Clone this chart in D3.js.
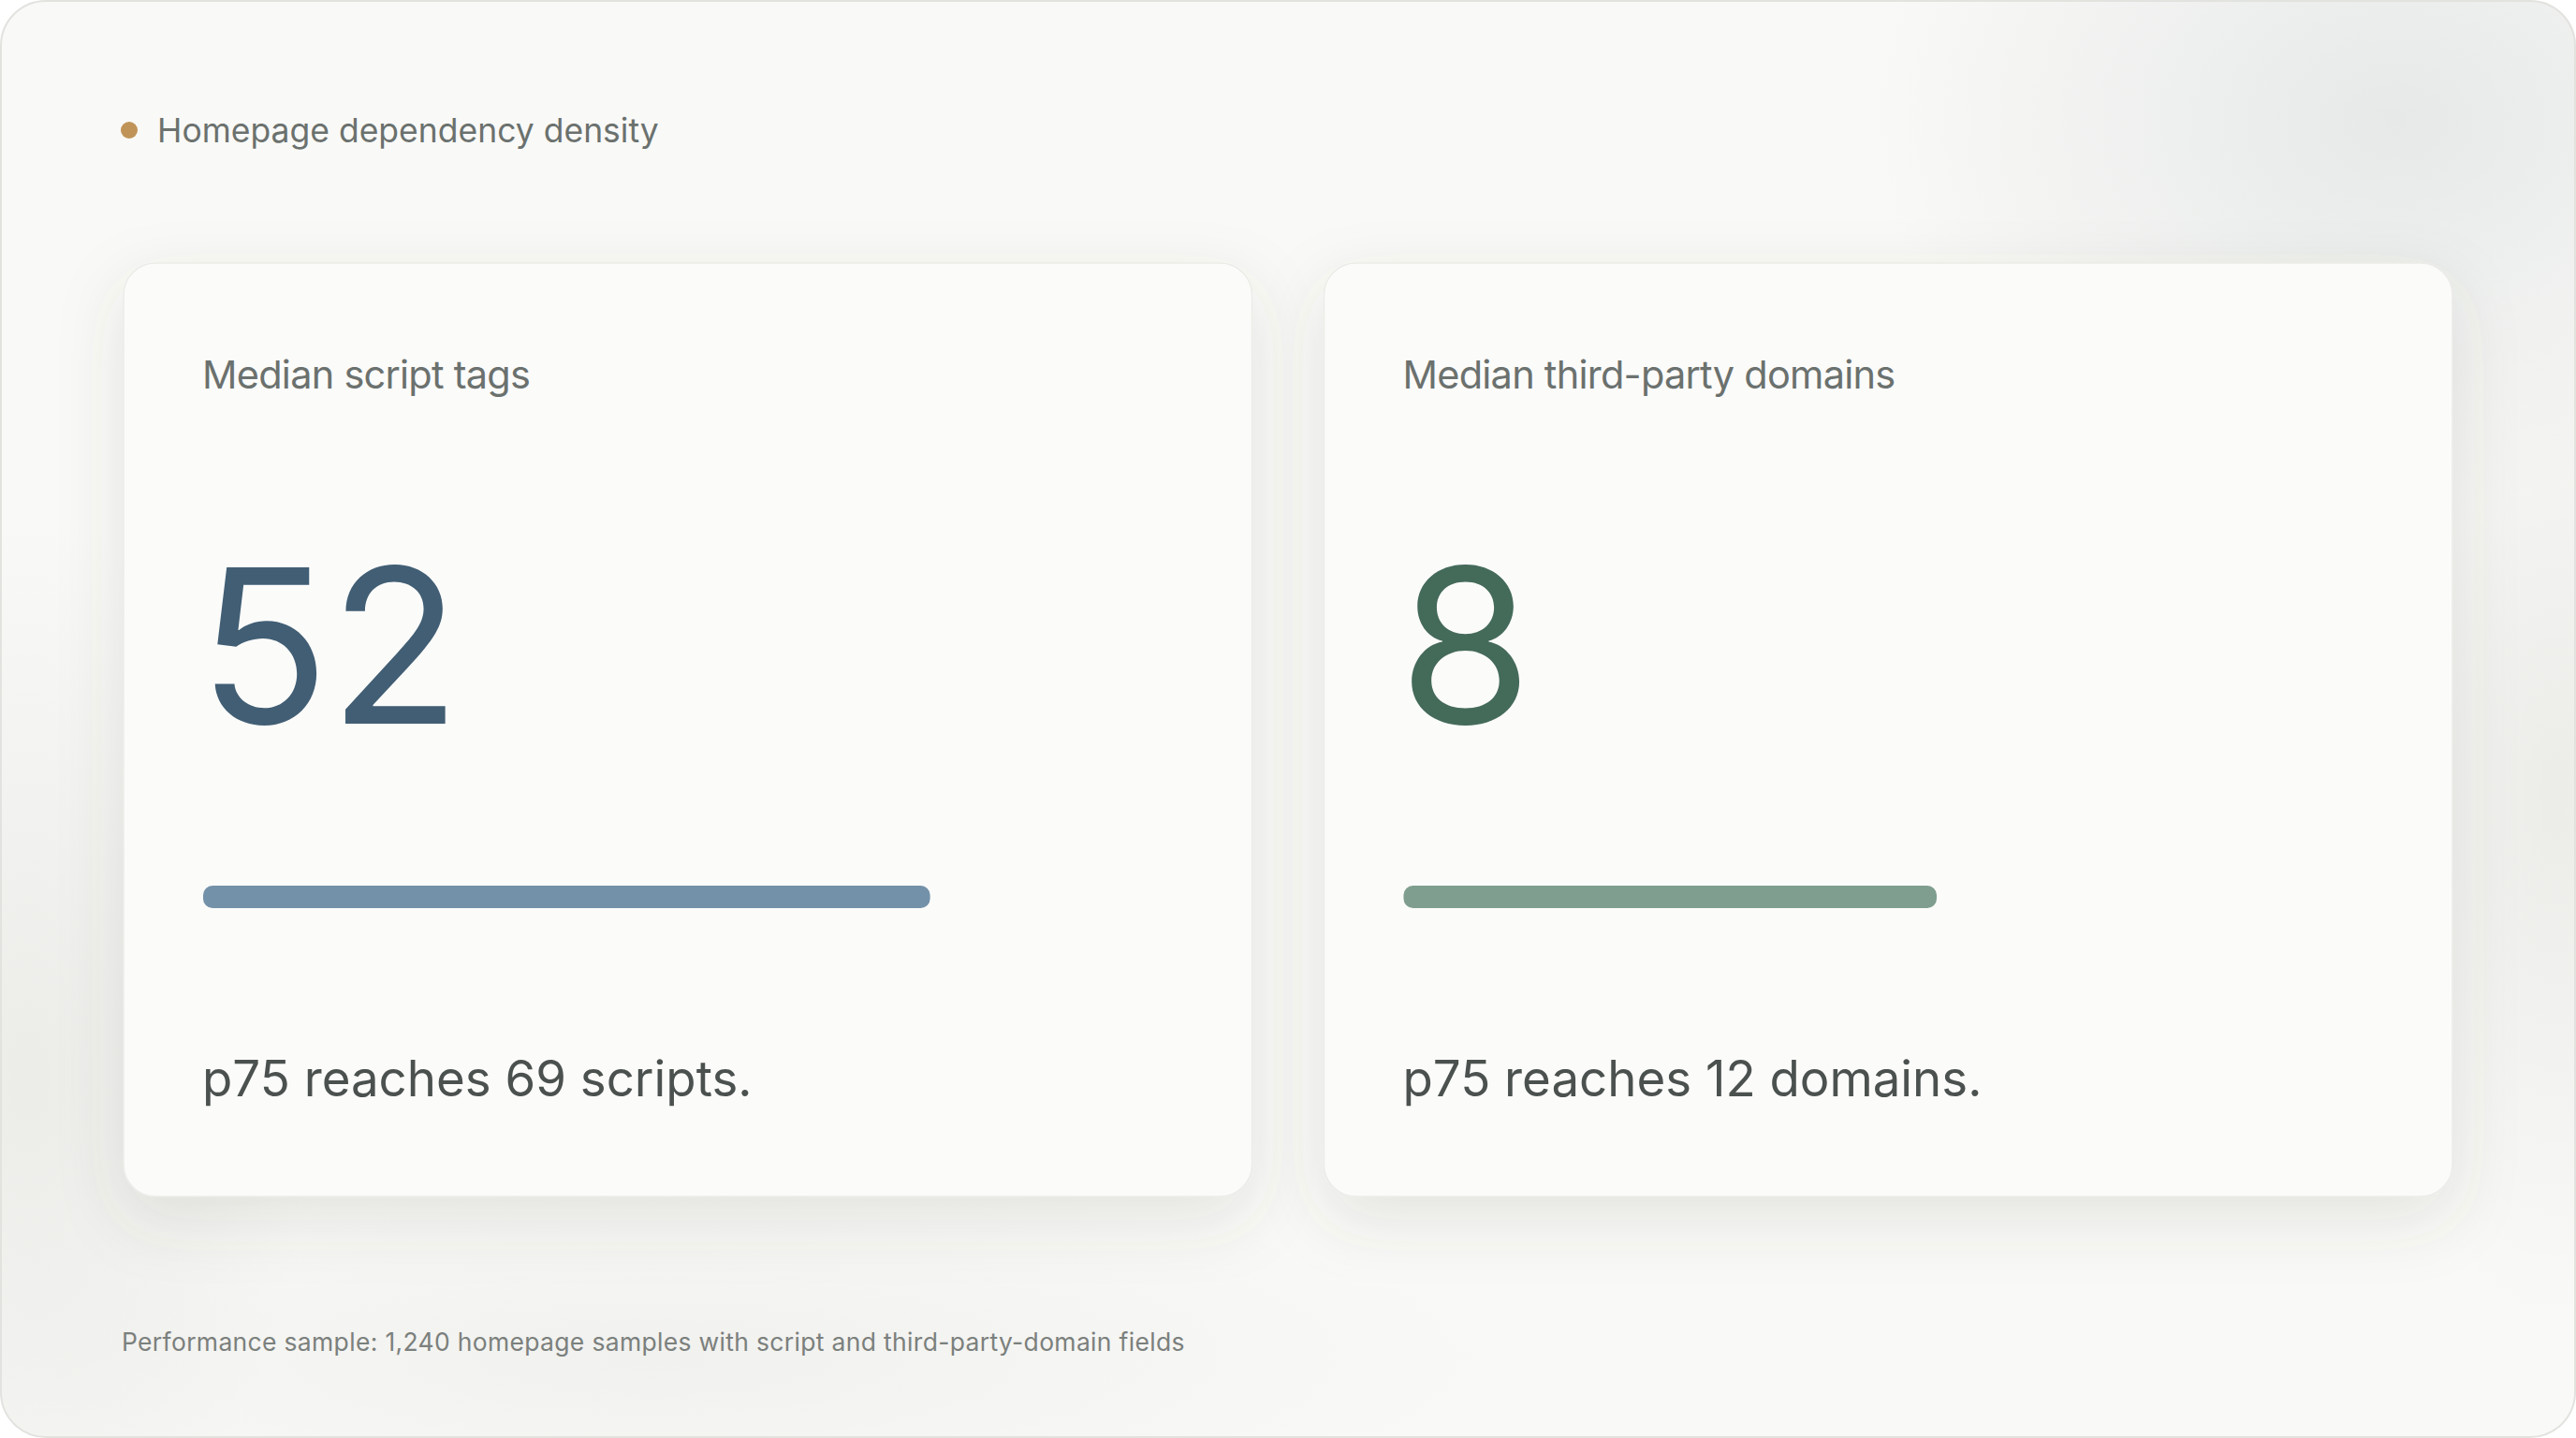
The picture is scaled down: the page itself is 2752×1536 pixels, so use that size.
<!DOCTYPE html>
<html>
<head>
<meta charset="utf-8">
<script src="https://cdn.jsdelivr.net/npm/d3@7"></script>
<style>
  html, body { margin: 0; padding: 0; background: #ffffff; }
  svg { display: block; }
</style>
</head>
<body>
<svg id="chart" width="2752" height="1536"></svg>
<script>
// Values
const chartTitle = "Homepage dependency density";
const cardTitles = ["Median script tags", "Median third-party domains"];
const medians = [52, 8];
const p75Values = [69, 12];
const units = ["scripts", "domains"];
const barShares = [0.75, 0.55]; // filled share of each track
const footnote = "Performance sample: 1,240 homepage samples with script and third-party-domain fields";

const numberColors = ["#415e74", "#446a5a"];
const barColors = ["#7391a9", "#7f9e8f"];

const W = 2752, H = 1536;
const svg = d3.select("#chart");
const defs = svg.append("defs");

// soft background blobs
function blob(id, color, opacity) {
  const g = defs.append("radialGradient").attr("id", id)
    .attr("cx", 0.5).attr("cy", 0.5).attr("r", 0.5);
  g.append("stop").attr("offset", "0%").attr("stop-color", color).attr("stop-opacity", opacity);
  g.append("stop").attr("offset", "100%").attr("stop-color", color).attr("stop-opacity", 0);
}
blob("bgCool", "#e6e9e8", 1);
blob("bgDim", "#eaeae7", 0.9);

const shadow = defs.append("filter").attr("id", "cardShadow")
  .attr("x", "-20%").attr("y", "-20%").attr("width", "140%").attr("height", "150%");
shadow.append("feDropShadow").attr("dx", 0).attr("dy", 24).attr("stdDeviation", 34)
  .attr("flood-color", "#55564c").attr("flood-opacity", 0.13);

const clip = defs.append("clipPath").attr("id", "panelClip");
clip.append("rect").attr("x", 1).attr("y", 1).attr("width", W - 2).attr("height", H - 2).attr("rx", 48);

// outer panel
svg.append("rect")
  .attr("x", 1).attr("y", 1).attr("width", W - 2).attr("height", H - 2).attr("rx", 48)
  .attr("fill", "#f9f9f7");

const bg = svg.append("g").attr("clip-path", "url(#panelClip)");
bg.append("ellipse").attr("cx", 2560).attr("cy", 130).attr("rx", 560).attr("ry", 420).attr("fill", "url(#bgCool)");
bg.append("ellipse").attr("cx", 30).attr("cy", 1150).attr("rx", 300).attr("ry", 600).attr("fill", "url(#bgDim)");
bg.append("ellipse").attr("cx", 2730).attr("cy", 850).attr("rx", 220).attr("ry", 560).attr("fill", "url(#bgDim)");
bg.append("ellipse").attr("cx", 700).attr("cy", 1450).attr("rx", 900).attr("ry", 200).attr("fill", "url(#bgDim)").attr("opacity", 0.6);

svg.append("rect")
  .attr("x", 1).attr("y", 1).attr("width", W - 2).attr("height", H - 2).attr("rx", 48)
  .attr("fill", "none").attr("stroke", "#e2e2df").attr("stroke-width", 2);

const font = "Inter, 'Noto Sans', sans-serif";

// header
svg.append("circle").attr("cx", 138).attr("cy", 139).attr("r", 9).attr("fill", "#c09458");
svg.append("text")
  .attr("x", 168).attr("y", 152)
  .attr("font-family", font).attr("font-size", 35.5)
  .attr("fill", "#6b716e")
  .text(chartTitle);

// cards
const cardH = 997, cardY = 281, pad = 85;
const x = d3.scaleBand()
  .domain(d3.range(cardTitles.length))
  .range([132, 2620])
  .paddingInner(0.06);

const bar = d3.scaleLinear().domain([0, 1]).range([0, x.bandwidth() - 2 * pad]);

const cards = svg.selectAll("g.card")
  .data(cardTitles.map((t, i) => ({ title: t, median: medians[i], p75: p75Values[i], unit: units[i], share: barShares[i], i })))
  .join("g")
  .attr("class", "card")
  .attr("transform", d => `translate(${x(d.i)},${cardY})`);

cards.append("rect")
  .attr("width", x.bandwidth()).attr("height", cardH).attr("rx", 34)
  .attr("fill", "#fbfbfa")
  .attr("stroke", "#ecebe8").attr("stroke-width", 1.5)
  .attr("filter", "url(#cardShadow)");

cards.append("text")
  .attr("x", pad - 1).attr("y", 134)
  .attr("font-family", font).attr("font-size", 41.5)
  .attr("letter-spacing", -0.75)
  .attr("fill", "#6b716e")
  .text(d => d.title);

cards.append("text")
  .attr("x", pad - 5).attr("y", 492)
  .attr("font-family", font).attr("font-size", 230)
  .attr("fill", d => numberColors[d.i])
  .text(d => d.median);

cards.append("rect")
  .attr("x", pad).attr("y", 665)
  .attr("width", d => bar(d.share)).attr("height", 24).attr("rx", 10)
  .attr("fill", d => barColors[d.i]);

cards.append("text")
  .attr("x", pad - 1).attr("y", 890)
  .attr("font-family", font).attr("font-size", 52.8)
  .attr("fill", "#4b514e")
  .text(d => `p75 reaches ${d.p75} ${d.unit}.`);

// footnote
svg.append("text")
  .attr("x", 130).attr("y", 1443)
  .attr("font-family", font).attr("font-size", 26.5)
  .attr("letter-spacing", 0.32)
  .attr("fill", "#7b807d")
  .text(footnote);
</script>
</body>
</html>
